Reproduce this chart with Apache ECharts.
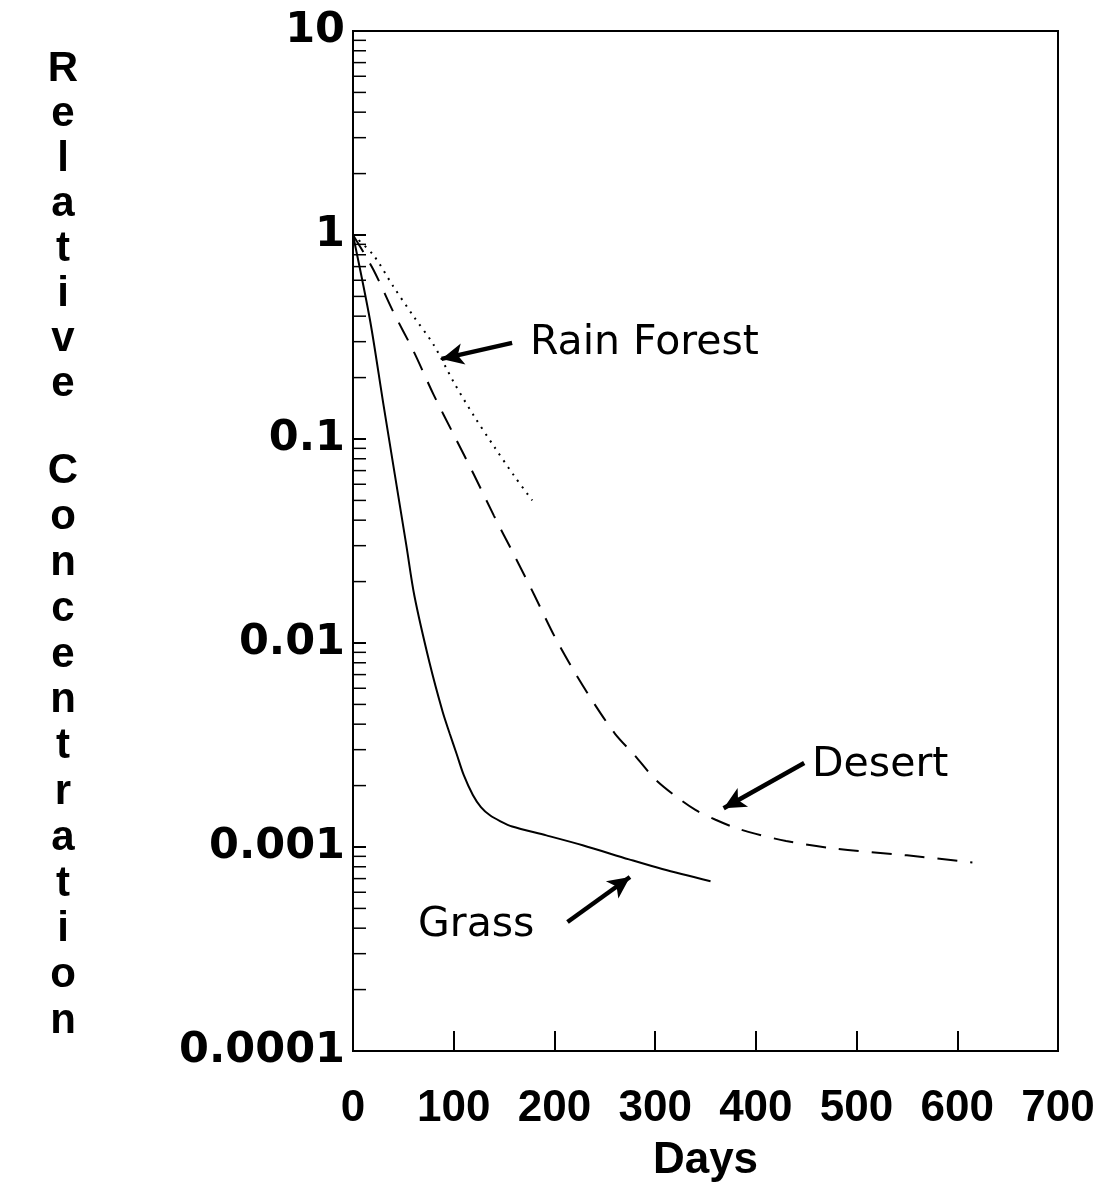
<!DOCTYPE html>
<html>
<head>
<meta charset="utf-8">
<script src="https://cdn.jsdelivr.net/npm/echarts@6/dist/echarts.min.js"></script>
<style>html,body{margin:0;padding:0;background:#fff}#c{width:1098px;height:1191px}</style>
</head>
<body>
<div id="c"></div>
<script>
// ---- data ----
const grassDays   = [0, 17, 30, 53, 61, 76, 89, 96, 103, 110, 119, 127, 136, 146, 158, 192, 228, 274, 307, 355];
const grassValues = [1.0, 0.38, 0.15, 0.030, 0.017, 0.0080, 0.0046, 0.0036, 0.00285, 0.00225, 0.00180, 0.00157, 0.00143, 0.00134, 0.00126, 0.00114, 0.00102, 0.000870, 0.000780, 0.000680];

const desertDays   = [0, 20, 40, 60, 80, 100, 120, 140, 160, 180, 200, 220, 240, 260, 280, 300, 320, 340, 360, 380, 400, 430, 480, 550, 615];
const desertValues = [1.0, 0.68, 0.42, 0.27, 0.165, 0.105, 0.067, 0.042, 0.027, 0.0172, 0.0108, 0.0072, 0.0050, 0.0036, 0.0028, 0.00215, 0.00178, 0.00152, 0.00136, 0.00124, 0.00116, 0.00107, 0.00098, 0.00091, 0.00084];

const rainDays   = [0, 20, 40, 60, 80, 100, 120, 140, 160, 178];
const rainValues = [1.0, 0.80, 0.56, 0.40, 0.29, 0.19, 0.13, 0.092, 0.066, 0.050];

const xTickLabels = ['0', '100', '200', '300', '400', '500', '600', '700'];
const yTickLabels = ['0.0001', '0.001', '0.01', '0.1', '1', '10'];
const minorMantissas = [2, 3, 4, 5, 6, 7, 8, 9];
const decadeExponents = [-4, -3, -2, -1, 0];

// annotation arrows (tail -> head) in data units
const rainArrow   = [[158, 0.296], [88, 0.247]];
const desertArrow = [[448, 0.00258], [368, 0.00155]];
const grassArrow  = [[213, 0.000429], [275, 0.000713]];

// ---- build ----
const pairs = (xs, ys) => xs.map((x, i) => [x, ys[i]]);
const minorTicks = [];
decadeExponents.forEach(e => minorMantissas.forEach(m => minorTicks.push([0, m * Math.pow(10, e)])));

const arrowLine = (a) => ({
  silent: true,
  symbol: ['none', 'arrow'],
  symbolSize: [16, 22],
  lineStyle: { color: '#000', width: 4.5, type: 'solid' },
  label: { show: false },
  emphasis: { disabled: true },
  data: [[{ coord: a[0] }, { coord: a[1] }]]
});

const chart = echarts.init(document.getElementById('c'));
chart.setOption({
  animation: false,
  backgroundColor: '#fff',
  grid: { left: 353, right: 40, top: 31, bottom: 140, show: true, borderColor: '#000', borderWidth: 2, backgroundColor: 'transparent' },
  xAxis: {
    type: 'value', min: 0, max: 700, interval: 100,
    axisLine: { show: true, lineStyle: { color: '#000', width: 2 } },
    axisTick: { show: true, inside: true, length: 20, lineStyle: { color: '#000', width: 2 } },
    splitLine: { show: false },
    axisLabel: {
      margin: 36, color: '#000', fontFamily: 'Liberation Sans', fontWeight: 'bold', fontSize: 44,
      formatter: (v) => xTickLabels[Math.round(v / 100)]
    },
    name: 'Days', nameLocation: 'middle', nameGap: 88,
    nameTextStyle: { color: '#000', fontFamily: 'Liberation Sans', fontWeight: 'bold', fontSize: 44 }
  },
  yAxis: {
    type: 'log', logBase: 10, min: 0.0001, max: 10,
    axisLine: { show: true, lineStyle: { color: '#000', width: 2 } },
    axisTick: { show: true, inside: true, length: 13, lineStyle: { color: '#000', width: 2 } },
    splitLine: { show: false },
    minorTick: { show: false },
    axisLabel: {
      margin: 8, color: '#000', fontFamily: 'DejaVu Sans', fontWeight: 'bold', fontSize: 43,
      formatter: (v) => yTickLabels[Math.round(Math.log10(v)) + 4]
    }
  },
  graphic: [
    { type: 'text', x: 63, y: 47, style: { text: 'Relative'.split('').join('\n'), x: 0, y: 0, textAlign: 'center', textVerticalAlign: 'top', fill: '#000', font: 'bold 42px "Liberation Sans"', lineHeight: 45 } },
    { type: 'text', x: 63, y: 449, style: { text: 'Concentration'.split('').join('\n'), x: 0, y: 0, textAlign: 'center', textVerticalAlign: 'top', fill: '#000', font: 'bold 42px "Liberation Sans"', lineHeight: 45.8 } },
    { type: 'text', x: 530, y: 343, style: { text: 'Rain Forest', textAlign: 'left', textVerticalAlign: 'middle', fill: '#000', font: '41px "DejaVu Sans"' } },
    { type: 'text', x: 812, y: 765, style: { text: 'Desert', textAlign: 'left', textVerticalAlign: 'middle', fill: '#000', font: '41px "DejaVu Sans"' } },
    { type: 'text', x: 418, y: 925, style: { text: 'Grass', textAlign: 'left', textVerticalAlign: 'middle', fill: '#000', font: '41px "DejaVu Sans"' } }
  ],
  series: [
    {
      name: 'Grass', type: 'line', data: pairs(grassDays, grassValues),
      showSymbol: false, smooth: 0.3,
      lineStyle: { color: '#000', width: 2, type: 'solid' },
      markLine: arrowLine(grassArrow)
    },
    {
      name: 'Desert', type: 'line', data: pairs(desertDays, desertValues),
      showSymbol: false, smooth: 0.3,
      lineStyle: { color: '#000', width: 2, type: [20, 13] },
      markLine: arrowLine(desertArrow)
    },
    {
      name: 'Rain Forest', type: 'line', data: pairs(rainDays, rainValues),
      showSymbol: false, smooth: 0.3,
      lineStyle: { color: '#000', width: 2, type: [2, 6] },
      markLine: arrowLine(rainArrow)
    },
    {
      name: 'minorTicks', type: 'custom', silent: true, clip: false, z: 5,
      data: minorTicks, encode: { x: 0, y: 1 },
      renderItem: (params, api) => {
        const cs = params.coordSys;
        const p = api.coord([api.value(0), api.value(1)]);
        return { type: 'line', shape: { x1: cs.x, y1: p[1], x2: cs.x + 13, y2: p[1] }, style: { stroke: '#000', lineWidth: 1.5 } };
      }
    }
  ]
});
</script>
</body>
</html>
